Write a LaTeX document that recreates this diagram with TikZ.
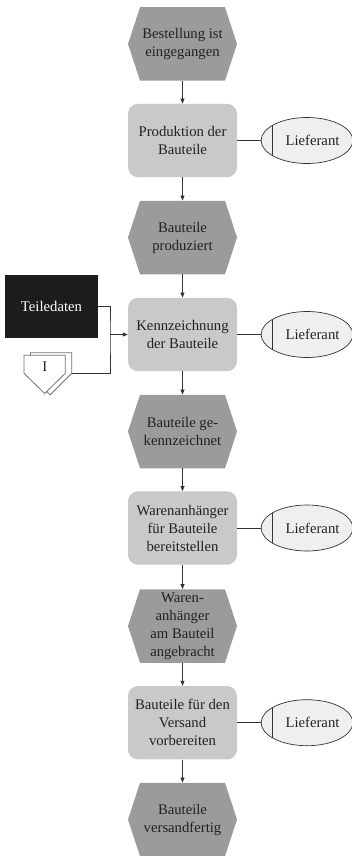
\documentclass[tikz,border=0pt]{standalone}
\usepackage{fontspec}
\setmainfont{Liberation Serif}
\usetikzlibrary{arrows.meta,shapes.geometric}
\definecolor{evfill}{HTML}{9B9B9B}
\definecolor{fnfill}{HTML}{C9C9C9}
\definecolor{orgfill}{HTML}{EFEFEF}
\definecolor{linecol}{HTML}{333333}
\definecolor{txt}{HTML}{222222}
\definecolor{datafill}{HTML}{1C1C1C}
\begin{document}
\begin{tikzpicture}[x=1pt,y=-1pt,
  every node/.style={font=\fontsize{14.7}{18}\selectfont, text=txt, align=center, inner sep=0pt},
  event/.style={rectangle, minimum width=109pt, minimum height=73.5pt,
    path picture={\fill[evfill]
      ([xshift=12pt]path picture bounding box.north west) --
      ([xshift=-12pt]path picture bounding box.north east) --
      (path picture bounding box.east) --
      ([xshift=-12pt]path picture bounding box.south east) --
      ([xshift=12pt]path picture bounding box.south west) --
      (path picture bounding box.west) -- cycle;}},
  func/.style={rectangle, rounded corners=10pt, fill=fnfill, minimum width=109pt, minimum height=73.4pt},
  org/.style={ellipse, draw=linecol, line width=0.7pt, fill=orgfill, minimum width=88pt, minimum height=46pt,
    path picture={\draw[linecol, line width=0.7pt]
      ([xshift=11pt]path picture bounding box.north west) --
      ([xshift=11pt]path picture bounding box.south west);}},
  datab/.style={rectangle, fill=datafill, text=white, minimum width=93pt, minimum height=63pt},
  flow/.style={draw=linecol, line width=0.7pt, -{Triangle[length=5pt,width=4pt]}},
  link/.style={draw=linecol, line width=0.7pt},
  carrier/.style={draw=linecol!70, line width=0.8pt, fill=white}
]
\useasboundingbox (0,0) rectangle (352,856);

% process chain
\node[event] (e1) at (182.5,44)    {Bestellung ist\\eingegangen};
\node[func]  (f1) at (182.5,140.5) {Produktion der\\Bauteile};
\node[event] (e2) at (182.5,237.5) {Bauteile\\produziert};
\node[func]  (f2) at (182.5,334.5) {Kennzeichnung\\der Bauteile};
\node[event] (e3) at (182.5,431.5) {Bauteile ge-\\kennzeichnet};
\node[func]  (f3) at (182.5,528)   {Warenanhänger\\für Bauteile\\bereitstellen};
\node[event] (e4) at (182.5,626)   {Waren-\\anhänger\\am Bauteil\\angebracht};
\node[func]  (f4) at (182.5,722.7) {Bauteile für den\\Versand\\vorbereiten};
\node[event] (e5) at (182.5,819.5) {Bauteile\\versandfertig};

\foreach \a/\b in {e1/f1,f1/e2,e2/f2,f2/e3,e3/f3,f3/e4,e4/f4,f4/e5}
  \draw[flow] (\a) -- (\b);

% organisational units
\foreach \f/\n in {f1/l1,f2/l2,f3/l3,f4/l4}{
  \node[org] (\n) at (307,0 |- \f) {\hspace*{11pt}Lieferant};
  \draw[link] (\f) -- (\n);
}

% data and information carrier
\node[datab] (td) at (51.5,306.5) {Teiledaten};

\draw[carrier] (30.5,352.7) -- (71.7,352.7) -- (71.7,373.3) -- (50,395) -- (30.5,373.3) -- cycle;
\draw[carrier] (24,355.3) -- (65.3,355.3) -- (65.3,373.3) -- (44.7,393.5) -- (24,373.3) -- cycle;
\node (ic) at (44.7,367) {I};
\coordinate (icr) at (71.7,373.3);

\coordinate (j) at (110,334.5);
\draw[link] (td.east) -| (j) |- (icr);
\draw[flow] (j) -- (f2.west);
\end{tikzpicture}
\end{document}
